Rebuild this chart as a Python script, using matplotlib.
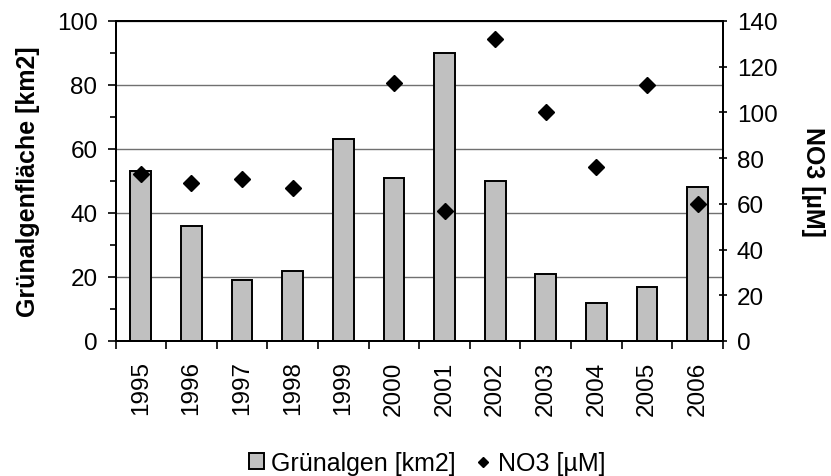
import numpy as np
import matplotlib
matplotlib.use("Agg")
import matplotlib.pyplot as plt
from matplotlib.ticker import MultipleLocator

years = ["1995", "1996", "1997", "1998", "1999", "2000",
         "2001", "2002", "2003", "2004", "2005", "2006"]
gruenalgen = [53, 36, 19, 22, 63, 51, 90, 50, 21, 12, 17, 48]
no3 = [73, 69, 71, 67, np.nan, 113, 57, 132, 100, 76, 112, 60]

plt.rcParams['font.family'] = ['Liberation Sans', 'DejaVu Sans']


def main() -> None:
	fig = plt.figure(figsize=(8.31, 4.77), dpi=100)
	ax = fig.add_axes([115.5 / 831, 1 - 342 / 477, (723 - 115.5) / 831, 320 / 477])
	x = np.arange(len(years))

	bars = ax.bar(x, gruenalgen, width=0.41, color='#c0c0c0', edgecolor='black',
		linewidth=1.4, label='Grünalgen [km2]', zorder=2)
	ax.set_axisbelow(True)
	ax.yaxis.grid(True, color='#707070', linewidth=1.0)
	ax.set_xlim(-0.5, len(years) - 0.5)
	ax.set_ylim(0, 100)
	ax.yaxis.set_major_locator(MultipleLocator(20))
	ax.yaxis.set_minor_locator(MultipleLocator(10))
	ax.set_xticks(x)
	ax.set_xticklabels(years, rotation=90)
	ax.set_xticks(np.arange(-0.5, len(years)), minor=True)
	ax.tick_params(axis='x', which='major', length=0, pad=14, labelsize=17.5)
	ax.tick_params(axis='x', which='minor', length=6, width=1.2, direction='out')
	ax.tick_params(axis='y', which='major', length=6, width=1.2, labelsize=17.5, pad=7)
	ax.tick_params(axis='y', which='minor', length=4, width=1.2)
	ax.set_ylabel('Grünalgenfläche [km2]', fontsize=18, fontweight='bold', labelpad=12)
	for s in ax.spines.values():
		s.set_linewidth(1.4)

	ax2 = ax.twinx()
	pts, = ax2.plot(x, no3, linestyle='none', marker='D', markersize=8,
		color='black', label='NO3 [µM]')
	ax2.set_ylim(0, 140)
	ax2.yaxis.set_major_locator(MultipleLocator(20))
	ax2.tick_params(axis='y', length=6, width=1.2, direction='inout', labelsize=17.5, pad=7)
	ax2.set_ylabel('NO3 [µM]', fontsize=18, fontweight='bold', rotation=270, labelpad=34)
	for s in ax2.spines.values():
		s.set_linewidth(1.4)

	fig.legend(handles=[bars, pts], loc='center', bbox_to_anchor=(0.514, 0.027),
		ncol=2, frameon=False, fontsize=18, handlelength=0.6, handleheight=0.6,
		handletextpad=0.3, columnspacing=0.8, markerscale=0.7)

	fig.savefig('out.png', dpi=100)


if __name__ == "__main__":
	main()
